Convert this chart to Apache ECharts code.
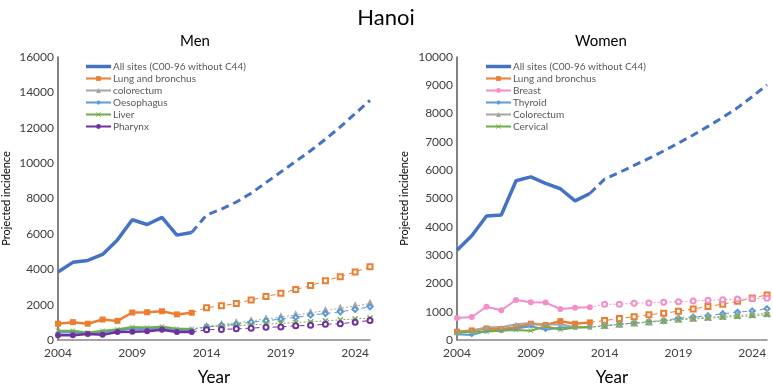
<!DOCTYPE html>
<html>
<head>
<meta charset="utf-8">
<script src="https://cdn.jsdelivr.net/npm/echarts@6/dist/echarts.min.js"></script>
<style>
  html, body { margin: 0; padding: 0; background: #fff; }
  #chart { width: 773px; height: 391px; }
</style>
</head>
<body>
<div id="chart"></div>
<script>
// years on the x axis (2004-2025)
var years = ["2004", "2005", "2006", "2007", "2008", "2009", "2010", "2011", "2012", "2013", "2014",
  "2015", "2016", "2017", "2018", "2019", "2020", "2021", "2022", "2023", "2024", "2025"];

// Men, observed 2004-2013
var menAll = [3850, 4390, 4500, 4840, 5660, 6800, 6530, 6930, 5930, 6080];
var menLung = [920, 1010, 920, 1155, 1080, 1556, 1570, 1627, 1448, 1540];
var menColorectum = [470, 470, 400, 470, 560, 680, 650, 700, 600, 600];
var menOesophagus = [430, 430, 380, 430, 520, 640, 620, 650, 560, 560];
var menLiver = [520, 520, 430, 520, 610, 740, 700, 760, 630, 630];
var menPharynx = [270, 270, 340, 290, 450, 470, 500, 580, 450, 450];
// Men, projected 2014-2025
var menAllProj = [7070, 7400, 7800, 8300, 8900, 9500, 10100, 10700, 11350, 12050, 12800, 13550];
var menLungProj = [1828, 1936, 2061, 2262, 2458, 2640, 2857, 3075, 3345, 3580, 3851, 4140];
var menColorectumProj = [770, 870, 970, 1080, 1190, 1300, 1420, 1540, 1660, 1790, 1920, 2060];
var menOesophagusProj = [740, 830, 890, 1010, 1085, 1190, 1280, 1410, 1500, 1590, 1730, 1880];
var menLiverProj = [740, 780, 815, 850, 900, 940, 990, 1030, 1085, 1140, 1190, 1250];
var menPharynxProj = [580, 600, 630, 670, 720, 740, 800, 830, 890, 920, 1010, 1100];

// Women, observed 2004-2013
var womenAll = [3170, 3684, 4383, 4417, 5627, 5763, 5537, 5345, 4915, 5176];
var womenLung = [294, 339, 407, 384, 452, 576, 531, 667, 576, 622];
var womenBreast = [780, 814, 1175, 1051, 1413, 1333, 1322, 1096, 1141, 1153];
var womenThyroid = [200, 180, 316, 316, 407, 486, 362, 441, 452, 452];
var womenColorectum = [294, 320, 452, 452, 554, 599, 542, 554, 452, 452];
var womenCervical = [260, 294, 294, 339, 350, 328, 486, 362, 441, 463];
// Women, projected 2014-2025
var womenAllProj = [5684, 5921, 6170, 6418, 6678, 6960, 7243, 7548, 7864, 8203, 8599, 9017];
var womenLungProj = [689, 757, 825, 893, 949, 1017, 1096, 1186, 1266, 1367, 1480, 1593];
var womenBreastProj = [1260, 1266, 1300, 1311, 1333, 1356, 1379, 1401, 1424, 1446, 1458, 1475];
var womenThyroidProj = [508, 554, 599, 644, 689, 768, 814, 859, 927, 983, 1028, 1107];
var womenColorectumProj = [510, 560, 600, 640, 690, 730, 770, 800, 840, 870, 905, 940];
var womenCervicalProj = [486, 554, 588, 633, 667, 723, 746, 768, 802, 825, 859, 893];

var FONT = "Lato";
var C_BLUE = "#4472C4", C_ORANGE = "#ED7D31", C_GRAY = "#A5A5A5", C_LBLUE = "#5B9BD5",
  C_GREEN = "#70AD47", C_PURPLE = "#7030A0", C_PINK = "#F28EC8";
var X_MARK = "path://M1,0L5,4L9,0L10,1L6,5L10,9L9,10L5,6L1,10L0,9L4,5L0,1Z";
var BAR_ICON = "path://M0,0L100,0L100,14L0,14Z";

// observed values followed by empty slots
function obs(arr) {
  var d = arr.slice();
  while (d.length < years.length) d.push(null);
  return d;
}
// projection starts from last observed point (no marker there)
function proj(observed, arr) {
  var d = [];
  for (var i = 0; i < observed.length - 1; i++) d.push(null);
  d.push({ value: observed[observed.length - 1], symbol: "none" });
  return d.concat(arr);
}

function solid(name, idx, data, color, symbol, width, size) {
  return {
    name: name, type: "line", xAxisIndex: idx, yAxisIndex: idx,
    data: obs(data), symbol: symbol, symbolSize: size || 5,
    lineStyle: { color: color, width: width },
    itemStyle: { color: color }, z: 3
  };
}
function dashed(name, idx, observed, data, color, symbol, dash) {
  return {
    name: name, type: "line", xAxisIndex: idx, yAxisIndex: idx,
    data: proj(observed, data), symbol: symbol, symbolSize: 5,
    lineStyle: { color: color, width: 1, type: dash || [2, 2] },
    itemStyle: { color: color, borderColor: color, borderWidth: 1 }, z: 2
  };
}

function legendData(names) {
  return names.map(function (n, i) {
    if (i === 0) return { name: n, icon: BAR_ICON, itemStyle: { color: C_BLUE } };
    return { name: n };
  });
}

var chart = echarts.init(document.getElementById("chart"));

var axisLabelStyle = { color: "#404040", fontSize: 12, fontFamily: FONT };
var legendText = { color: "#595959", fontSize: 10, lineHeight: 11, fontFamily: FONT, padding: [0, 0, 0, -3] };

var option = {
  animation: false,
  textStyle: { fontFamily: FONT },
  graphic: [
    { type: "text", x: 386, y: 18, style: { text: "Hanoi", font: "22px " + FONT, fill: "#000", align: "center", verticalAlign: "middle" } },
    { type: "text", x: 195, y: 41, style: { text: "Men", font: "15px " + FONT, fill: "#000", align: "center", verticalAlign: "middle" } },
    { type: "text", x: 601, y: 41, style: { text: "Women", font: "15px " + FONT, fill: "#000", align: "center", verticalAlign: "middle" } }
  ],
  legend: [
    {
      data: legendData(["All sites (C00-96 without C44)", "Lung and bronchus", "colorectum", "Oesophagus", "Liver", "Pharynx"]),
      orient: "vertical", left: 85, top: 61, padding: 0, itemWidth: 25, itemHeight: 6, itemGap: 1,
      textStyle: legendText, selectedMode: false
    },
    {
      data: legendData(["All sites (C00-96 without C44)", "Lung and bronchus", "Breast", "Thyroid", "Colorectum", "Cervical"]),
      orient: "vertical", left: 485, top: 61, padding: 0, itemWidth: 25, itemHeight: 6, itemGap: 1,
      textStyle: legendText, selectedMode: false
    }
  ],
  grid: [
    { left: 56, top: 57, width: 314, height: 295 },
    { left: 457, top: 57, width: 310, height: 295 }
  ],
  xAxis: [0, 1].map(function (i) {
    return {
      type: "category", gridIndex: i, data: years, boundaryGap: false,
      name: "Year", nameLocation: "middle", nameGap: 29,
      nameTextStyle: { fontSize: 17, color: "#000", fontFamily: FONT },
      axisLine: { lineStyle: { color: "#868686", width: 1.5 } },
      axisTick: { show: false },
      axisLabel: Object.assign({ interval: 4, margin: 7 }, axisLabelStyle),
      splitLine: { show: false }
    };
  }),
  yAxis: [
    {
      type: "value", gridIndex: 0, min: 0, max: 16000, interval: 2000,
      name: "Projected incidence", nameLocation: "middle", nameGap: 46,
      nameTextStyle: { fontSize: 11, color: "#000", fontFamily: FONT },
      axisLine: { show: true, lineStyle: { color: "#595959", width: 1.5 } },
      axisTick: { show: false },
      axisLabel: Object.assign({ margin: 4, formatter: function (v) { return String(v); } }, axisLabelStyle),
      splitLine: { show: false }
    },
    {
      type: "value", gridIndex: 1, min: 0, max: 10000, interval: 1000,
      name: "Projected incidence", nameLocation: "middle", nameGap: 47,
      nameTextStyle: { fontSize: 11, color: "#000", fontFamily: FONT },
      axisLine: { show: true, lineStyle: { color: "#595959", width: 1.5 } },
      axisTick: { show: false },
      axisLabel: Object.assign({ margin: 4, formatter: function (v) { return String(v); } }, axisLabelStyle),
      splitLine: { show: false }
    }
  ],
  series: [
    // Men projections
    dashed("m-all-p", 0, menAll, menAllProj, C_BLUE, "none", [8, 5]),
    dashed("m-lung-p", 0, menLung, menLungProj, C_ORANGE, "emptyRect", [5, 4]),
    dashed("m-col-p", 0, menColorectum, menColorectumProj, C_GRAY, "emptyTriangle"),
    dashed("m-oes-p", 0, menOesophagus, menOesophagusProj, C_LBLUE, "emptyDiamond", [5, 4]),
    dashed("m-liv-p", 0, menLiver, menLiverProj, C_GREEN, X_MARK),
    dashed("m-pha-p", 0, menPharynx, menPharynxProj, C_PURPLE, "emptyCircle", [5, 4]),
    // Men observed
    solid("All sites (C00-96 without C44)", 0, menAll, C_BLUE, "none", 3.5),
    solid("Lung and bronchus", 0, menLung, C_ORANGE, "rect", 2.5, 6),
    solid("colorectum", 0, menColorectum, C_GRAY, "triangle", 2),
    solid("Oesophagus", 0, menOesophagus, C_LBLUE, "diamond", 2),
    solid("Liver", 0, menLiver, C_GREEN, X_MARK, 2),
    solid("Pharynx", 0, menPharynx, C_PURPLE, "circle", 2.5, 6),
    // Women projections
    dashed("w-all-p", 1, womenAll, womenAllProj, C_BLUE, "none", [8, 5]),
    dashed("w-lung-p", 1, womenLung, womenLungProj, C_ORANGE, "emptyRect", [5, 4]),
    dashed("w-bre-p", 1, womenBreast, womenBreastProj, C_PINK, "emptyCircle"),
    dashed("w-thy-p", 1, womenThyroid, womenThyroidProj, C_LBLUE, "emptyDiamond", [5, 4]),
    dashed("w-col-p", 1, womenColorectum, womenColorectumProj, C_GRAY, "emptyTriangle"),
    dashed("w-cer-p", 1, womenCervical, womenCervicalProj, C_GREEN, X_MARK),
    // Women observed
    solid("All sites (C00-96 without C44)", 1, womenAll, C_BLUE, "none", 3.5),
    solid("Lung and bronchus", 1, womenLung, C_ORANGE, "rect", 2.5, 6),
    solid("Breast", 1, womenBreast, C_PINK, "circle", 2, 6),
    solid("Thyroid", 1, womenThyroid, C_LBLUE, "diamond", 2),
    solid("Colorectum", 1, womenColorectum, C_GRAY, "triangle", 2),
    solid("Cervical", 1, womenCervical, C_GREEN, X_MARK, 2)
  ]
};
// projection line for all sites is thick
option.series[0].lineStyle.width = 3;
option.series[12].lineStyle.width = 3;

chart.setOption(option);
</script>
</body>
</html>
